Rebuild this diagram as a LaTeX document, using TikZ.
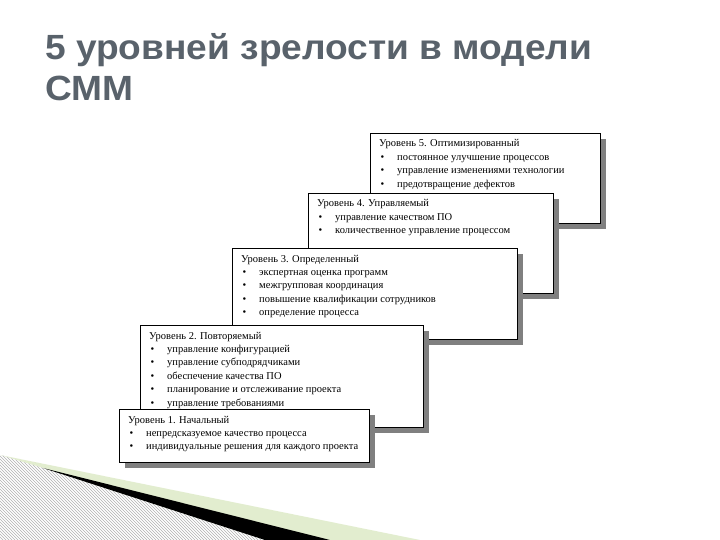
\documentclass[tikz,border=0pt]{standalone}
\usepackage{fontspec}
\setmainfont{Liberation Serif}
\newfontfamily\titlefont{Liberation Sans}
\usetikzlibrary{patterns}
\definecolor{titlegray}{HTML}{59626B}
\definecolor{shadowgray}{HTML}{808080}
\definecolor{palegreen}{HTML}{E2EDCF}
\tikzset{
  lvlframe/.style={draw=black, line width=0.8pt, fill=white, anchor=north west, inner sep=0pt},
  lvltext/.style={anchor=base west, inner sep=0pt, font=\fontsize{10.5}{12}\selectfont},
  lvldot/.style={anchor=base, inner sep=0pt, font=\fontsize{10.5}{12}\selectfont},
  ttl/.style={anchor=base west, inner sep=0pt, text=titlegray, xscale=1.06, font=\titlefont\bfseries\fontsize{35}{40}\selectfont}
}
% #1 name, #2 x, #3 y, #4 w, #5 h, #6 title, #7 items
\newcommand\mkLevel[7]{%
  \fill[shadowgray] (#2+6,#3+6) rectangle ++(#4,#5);
  \node[lvlframe, minimum width=#4pt, minimum height=#5pt] (#1) at (#2,#3) {};
  \node[lvltext] (#1-t) at (#2+9,#3+14) {#6};
  \foreach \itm [count=\i] in {#7} {
    \node[lvldot] (#1-b\i) at (#2+12.5,#3+14+13.4*\i) {\textbullet};
    \node[lvltext] (#1-i\i) at (#2+27,#3+14+13.4*\i) {\itm};
  }%
}
\begin{document}
\begin{tikzpicture}[x=1pt,y=-1pt]
\useasboundingbox (0,0) rectangle (720,540);
\fill[white] (0,0) rectangle (720,540);
% title
\node[ttl] (title1) at (45,60) {5 уровней зрелости в модели};
\node[ttl] (title2) at (45,101) {СММ};
% decoration bottom-left
\fill[palegreen] (0,455) -- (420,540) -- (0,540) -- cycle;
\fill[white] (0,455) -- (43,468) -- (265,540) -- (0,540) -- cycle;
\fill[pattern=north west lines, pattern color=gray!60] (0,455) -- (43,468) -- (265,540) -- (0,540) -- cycle;
\fill[black] (43,468) -- (330,540) -- (265,540) -- cycle;
% levels
\mkLevel{l5}{370}{133}{230}{90}{Уровень 5. Оптимизированный}{постоянное улучшение процессов, управление изменениями технологии, предотвращение дефектов}
\mkLevel{l4}{308}{193}{245}{100}{Уровень 4. Управляемый}{управление качеством ПО, количественное управление процессом}
\mkLevel{l3}{232}{248}{285}{91}{Уровень 3. Определенный}{экспертная оценка программ, межгрупповая координация, повышение квалификации сотрудников, определение процесса}
\mkLevel{l2}{140}{325}{283}{102}{Уровень 2. Повторяемый}{управление конфигурацией, управление субподрядчиками, обеспечение качества ПО, планирование и отслеживание проекта, управление требованиями}
\mkLevel{l1}{119}{409}{250}{53}{Уровень 1. Начальный}{непредсказуемое качество процесса, индивидуальные решения для каждого проекта}
\end{tikzpicture}
\end{document}
